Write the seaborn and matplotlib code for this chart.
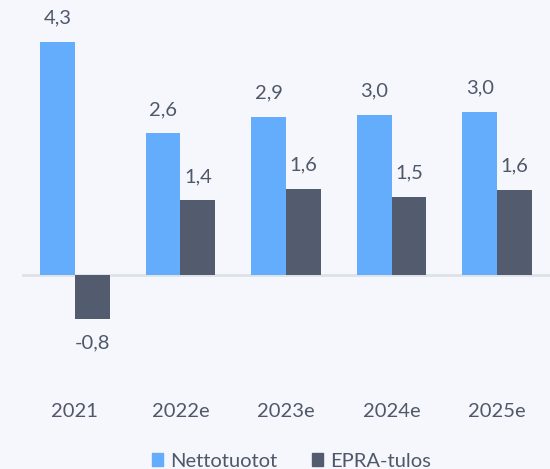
import matplotlib
import matplotlib.pyplot as plt
import matplotlib.patches as mpatches
import pandas as pd
import seaborn as sns

# ── data ──────────────────────────────────
years = ["2021", "2022e", "2023e", "2024e", "2025e"]
nettotuotot = [4.28, 2.60, 2.90, 2.94, 2.99]
epra_tulos = [-0.81, 1.37, 1.58, 1.43, 1.56]
nettotuotot_labels = ["4,3", "2,6", "2,9", "3,0", "3,0"]
epra_labels = ["-0,8", "1,4", "1,6", "1,5", "1,6"]
series = ["Nettotuotot", "EPRA-tulos"]
colors = ["#64acfc", "#525c6e"]

BG = "#f5f7fc"
TEXT = "#4f5869"

sns.set_theme(style="white")
matplotlib.rcParams["font.family"] = ["Lato", "DejaVu Sans"]

df = pd.DataFrame({
    "year": years * 2,
    "value": nettotuotot + epra_tulos,
    "series": [series[0]] * len(years) + [series[1]] * len(years),
})

fig = plt.figure(figsize=(5.5, 4.69), dpi=100, facecolor=BG)
ax = fig.add_axes([0.04, 0.194, 0.96, 0.806])
ax.set_facecolor(BG)

sns.barplot(
    data=df, x="year", y="value", hue="series",
    palette=colors, width=0.66, saturation=1,
    edgecolor="none", ax=ax, legend=False,
)

ax.axhline(0, color="#dde1e8", lw=2, zorder=0)

for cont, labels in zip(ax.containers, [nettotuotot_labels, epra_labels]):
    ax.bar_label(cont, labels=labels, padding=11, fontsize=14.5, color=TEXT)

ax.set_xlim(-0.5, 4.5)
ax.set_ylim(-1.9, 5.05)
ax.set_xlabel("")
ax.set_ylabel("")
ax.set_yticks([])
ax.tick_params(axis="x", length=0, pad=18, labelsize=14.5, labelcolor=TEXT)
sns.despine(ax=ax, left=True, bottom=True)

handles = [mpatches.Patch(color=c, label=s) for c, s in zip(colors, series)]
fig.legend(
    handles=handles, loc="lower center", bbox_to_anchor=(0.53, -0.04),
    ncol=2, frameon=False, fontsize=14.5, labelcolor=TEXT,
    handlelength=0.55, handleheight=0.55, handletextpad=0.35, columnspacing=1.7,
)

fig.savefig("out.png", dpi=100, facecolor=BG)
